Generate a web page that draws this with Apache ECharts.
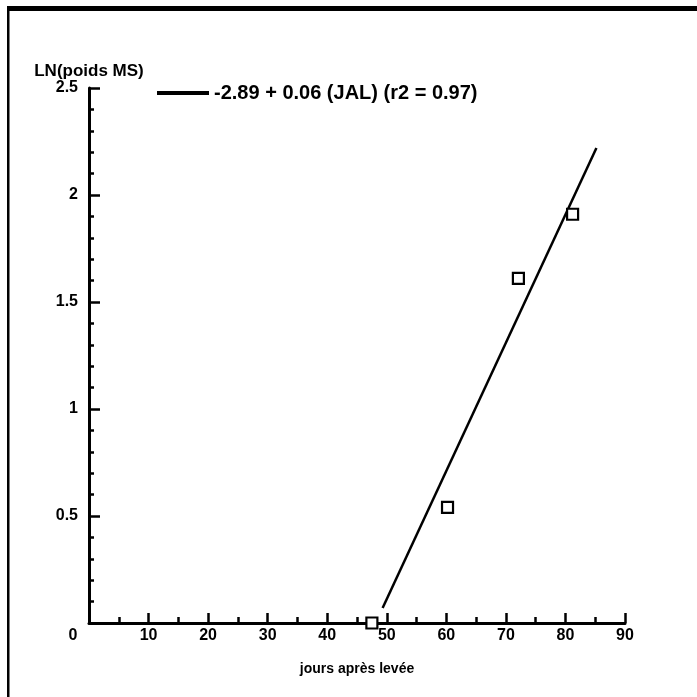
<!DOCTYPE html>
<html>
<head>
<meta charset="utf-8">
<script src="https://cdn.jsdelivr.net/npm/echarts@6/dist/echarts.min.js"></script>
<style>
html,body{margin:0;padding:0;background:#fff;}
#chart{width:697px;height:697px;}
</style>
</head>
<body>
<div id="chart"></div>
<script>
// Observed points (days after emergence, ln dry weight)
var obsDays = [47.5, 60.2, 72.1, 81.2];
var obsLn = [0.0, 0.54, 1.61, 1.91];
// Regression line endpoints
var fitDays = [49.3, 85.2];
var fitLn = [0.07, 2.22];
var fitLabel = '-2.89 + 0.06 (JAL) (r2 = 0.97)';
var xTitle = 'jours après levée';
var yTitle = 'LN(poids MS)';

var FONT = '"Liberation Sans", Arial, sans-serif';
var chart = echarts.init(document.getElementById('chart'), null, {renderer: 'canvas'});

chart.setOption({
  backgroundColor: '#fff',
  animation: false,
  grid: {left: 89, right: 72, top: 88, bottom: 74, containLabel: false},
  legend: {
    data: [fitLabel],
    left: 152, top: 78,
    icon: 'rect', itemWidth: 52, itemHeight: 4,
    itemGap: 6,
    textStyle: {fontFamily: FONT, fontWeight: 'bold', fontSize: 20, color: '#000'}
  },
  xAxis: {
    type: 'value', min: 0, max: 90, interval: 10,
    name: xTitle, nameLocation: 'middle', nameGap: 39,
    nameTextStyle: {fontFamily: FONT, fontWeight: 'bold', fontSize: 14, color: '#000', verticalAlign: 'top'},
    axisLine: {show: true, onZero: false, lineStyle: {color: '#000', width: 3}},
    axisTick: {show: true, inside: true, length: 10, lineStyle: {color: '#000', width: 2.5}},
    minorTick: {show: true, splitNumber: 2, length: 6, lineStyle: {color: '#000', width: 2.5}},
    splitLine: {show: false},
    axisLabel: {
      margin: 5, fontFamily: FONT, fontWeight: 'bold', fontSize: 16, color: '#000',
      formatter: function (v) { return v === 0 ? '{z|0}' : String(v); },
      rich: {z: {fontFamily: FONT, fontWeight: 'bold', fontSize: 16, color: '#000', padding: [0, 32, 0, 0]}}
    }
  },
  yAxis: {
    type: 'value', min: 0, max: 2.5, interval: 0.5,
    name: yTitle, nameLocation: 'end', nameGap: 6,
    nameTextStyle: {fontFamily: FONT, fontWeight: 'bold', fontSize: 17, color: '#000', align: 'center'},
    axisLine: {show: true, onZero: false, lineStyle: {color: '#000', width: 3}},
    axisTick: {show: true, inside: true, length: 11, lineStyle: {color: '#000', width: 2.5}},
    minorTick: {show: true, splitNumber: 5, length: 5, lineStyle: {color: '#000', width: 2.5}},
    splitLine: {show: false},
    axisLabel: {
      margin: 11, fontFamily: FONT, fontWeight: 'bold', fontSize: 16, color: '#000',
      formatter: function (v) { return v === 0 ? '' : String(v); }
    }
  },
  graphic: [
    {type: 'rect', shape: {x: 7, y: 6, width: 690, height: 5}, style: {fill: '#000'}, silent: true},
    {type: 'rect', shape: {x: 7, y: 6, width: 2.5, height: 691}, style: {fill: '#000'}, silent: true}
  ],
  series: [
    {
      name: fitLabel, type: 'line',
      data: fitDays.map(function (d, i) { return [d, fitLn[i]]; }),
      showSymbol: false, symbol: 'none',
      lineStyle: {color: '#000', width: 2.5},
      itemStyle: {color: '#000'},
      clip: false, z: 3
    },
    {
      name: 'obs', type: 'scatter',
      data: obsDays.map(function (d, i) { return [d, obsLn[i]]; }),
      symbol: 'rect', symbolSize: 11,
      itemStyle: {color: '#fff', borderColor: '#000', borderWidth: 2.2, opacity: 1},
      clip: false, z: 5
    }
  ]
});
</script>
</body>
</html>
